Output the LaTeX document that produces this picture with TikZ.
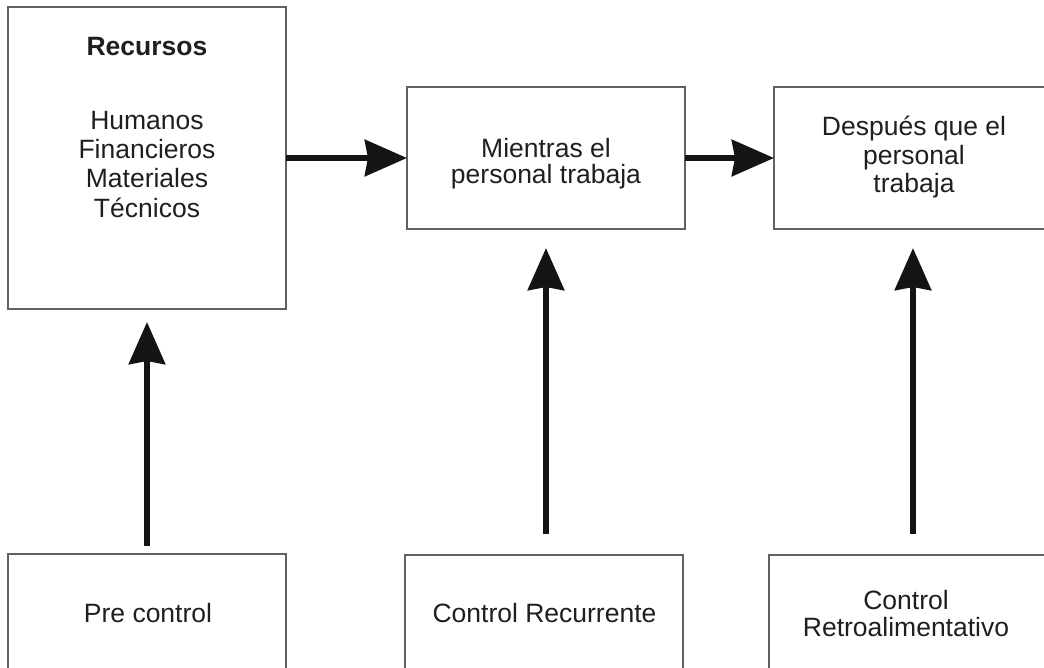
\documentclass[tikz,border=0pt]{standalone}
\usepackage{fontspec}
\setmainfont{Liberation Sans}
\usetikzlibrary{arrows.meta}

% centred lines with a fixed baseline distance
\newcommand\textlines[2]{\vtop{\baselineskip=#1\lineskiplimit=-100pt\halign{\hfil##\hfil\cr#2\crcr}}}

\begin{document}
\begin{tikzpicture}[x=1bp,y=-1bp,
  box/.style={draw=black!62, line width=1.3bp, inner sep=0pt, outer sep=0pt, minimum width=278bp},
  lbl/.style={font=\fontsize{26.5bp}{30bp}\selectfont, text=black!88, inner sep=0pt, anchor=base},
  flow/.style={draw=black!92, line width=6.5bp, -{Stealth[length=42bp,width=36bp,inset=3bp]}}]

\useasboundingbox (0,0) rectangle (1044,668);
\clip (0,0) rectangle (1044,668);

% stages
\node[box, minimum height=302bp] (rec) at (147,158) {};
\node[box, minimum height=142bp] (mid) at (546,158) {};
\node[box, minimum height=142bp] (aft) at (913,158) {};

% kinds of control
\node[box, minimum height=118bp] (pre) at (147,613) {};
\node[box, minimum height=117bp] (crec) at (544,613.5) {};
\node[box, minimum height=117bp] (retro) at (908,613.5) {};

% texts
\node[lbl] (recT) at (147,56) {\bfseries Recursos};
\node[lbl] (recL) at (147,130) {\textlines{29bp}{Humanos\cr Financieros\cr Materiales\cr Técnicos}};
\node[lbl] (midT) at (546,158) {\textlines{26bp}{Mientras el\cr personal trabaja}};
\node[lbl] (aftT) at (914,136) {\textlines{28.5bp}{Después que el\cr personal\cr trabaja}};
\node[lbl] (preT) at (148,622) {Pre control};
\node[lbl] (crecT) at (544.5,622) {Control Recurrente};
\node[lbl] (retroT) at (906,609) {\textlines{27bp}{Control\cr Retroalimentativo}};

% flow between stages
\draw[flow] (rec.east) -- (mid.west);
\draw[flow] (mid.east) -- (aft.west);

% controls acting on the stages
\draw[flow, shorten <=8bp, shorten >=13bp] (pre.north) -- (rec.south);
\draw[flow, shorten <=21bp, shorten >=19bp] (mid.south |- crec.north) -- (mid.south);
\draw[flow, shorten <=21bp, shorten >=19bp] (aft.south |- retro.north) -- (aft.south);

\end{tikzpicture}
\end{document}
